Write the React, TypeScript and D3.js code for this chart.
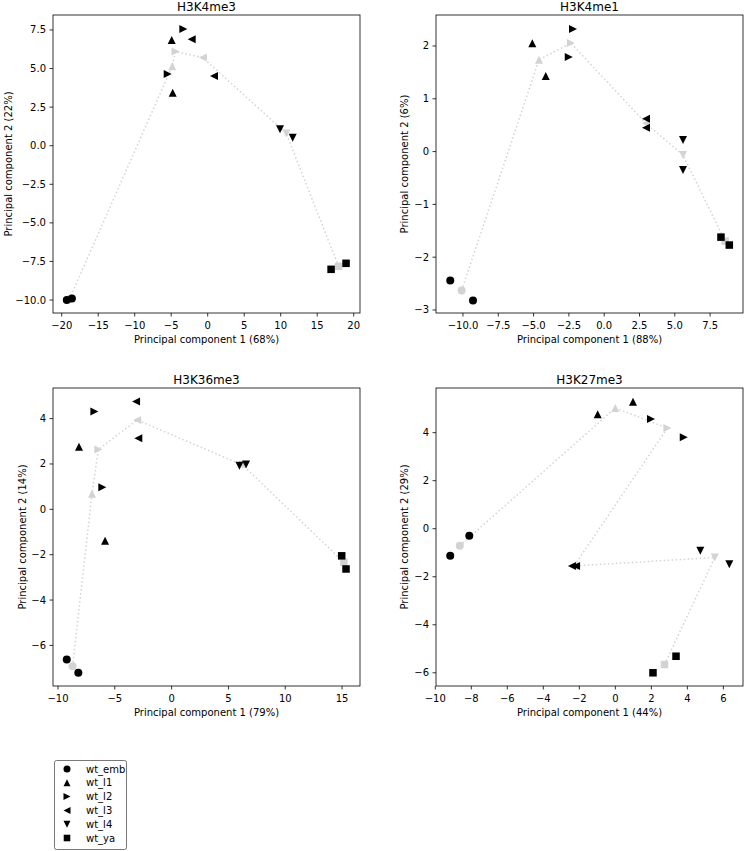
import React from "react";
import * as d3 from "d3";

const groups = ["wt_emb", "wt_l1", "wt_l2", "wt_l3", "wt_l4", "wt_ya"];
const shapes = ["circle", "up", "right", "left", "down", "square"];
const sampleGroup = [0, 0, 1, 1, 2, 2, 3, 3, 4, 4, 5, 5];

// H3K4me3
const k4me3PC1 = [-19.3, -18.6, -4.93, -4.8, -3.34, -5.48, -2.19, 0.86, 9.9, 11.64, 16.9, 18.95];
const k4me3PC2 = [-10.0, -9.9, 6.85, 3.44, 7.56, 4.65, 6.9, 4.52, 1.06, 0.52, -8.01, -7.62];
// H3K4me1
const k4me1PC1 = [-10.9, -9.29, -5.09, -4.14, -2.21, -2.51, 2.96, 2.96, 5.58, 5.58, 8.27, 8.86];
const k4me1PC2 = [-2.44, -2.82, 2.05, 1.43, 2.32, 1.79, 0.62, 0.45, 0.22, -0.35, -1.62, -1.77];
// H3K36me3
const k36me3PC1 = [-9.23, -8.21, -8.15, -5.86, -6.8, -6.1, -3.13, -2.93, 5.97, 6.55, 14.97, 15.35];
const k36me3PC2 = [-6.62, -7.21, 2.76, -1.39, 4.31, 0.97, 4.75, 3.13, 1.92, 1.98, -2.05, -2.63];
// H3K27me3
const k27me3PC1 = [-9.17, -8.11, -0.98, 0.98, 1.98, 3.8, -2.41, -2.18, 4.72, 6.33, 2.09, 3.37];
const k27me3PC2 = [-1.13, -0.29, 4.77, 5.29, 4.57, 3.81, -1.55, -1.55, -0.92, -1.48, -6.0, -5.31];

const titles = ["H3K4me3", "H3K4me1", "H3K36me3", "H3K27me3"];
const pc1Pct = [68, 88, 79, 44];
const pc2Pct = [22, 6, 14, 29];

const xTicks1 = [-20, -15, -10, -5, 0, 5, 10, 15, 20];
const yTicks1 = [-10, -7.5, -5, -2.5, 0, 2.5, 5, 7.5];
const xTicks2 = [-10, -7.5, -5, -2.5, 0, 2.5, 5, 7.5];
const yTicks2 = [-3, -2, -1, 0, 1, 2];
const xTicks3 = [-10, -5, 0, 5, 10, 15];
const yTicks3 = [-6, -4, -2, 0, 2, 4];
const xTicks4 = [-10, -8, -6, -4, -2, 0, 2, 4, 6];
const yTicks4 = [-6, -4, -2, 0, 2, 4];

const FONT = "DejaVu Sans, sans-serif";
const GRAY = "#d3d3d3";

const fmt1 = (v: number) => d3.format(".1f")(v).replace("-", "\u2212");
const fmt0 = (v: number) => d3.format("d")(v).replace("-", "\u2212");

function markerPath(shape: string, s: number) {
  const h = s / 2;
  switch (shape) {
    case "up":
      return `M0,${-h}L${-h},${h}L${h},${h}Z`;
    case "down":
      return `M0,${h}L${-h},${-h}L${h},${-h}Z`;
    case "right":
      return `M${h},0L${-h},${-h}L${-h},${h}Z`;
    case "left":
      return `M${-h},0L${h},${-h}L${h},${h}Z`;
    case "square":
      return `M${-h * 0.94},${-h * 0.94}h${s * 0.94}v${s * 0.94}h${-s * 0.94}Z`;
    default:
      return d3.arc()({ innerRadius: 0, outerRadius: h, startAngle: 0, endAngle: 2 * Math.PI }) as string;
  }
}

type PanelSpec = {
  title: string;
  pc1: number[];
  pc2: number[];
  p1: number;
  p2: number;
  box: [number, number, number, number]; // left, right, top, bottom
  xd: [number, number];
  yd: [number, number];
  xt: number[];
  yt: number[];
  xf: (v: number) => string;
  yf: (v: number) => string;
  ylabelX: number;
};

const panels: PanelSpec[] = [
  { title: titles[0], pc1: k4me3PC1, pc2: k4me3PC2, p1: pc1Pct[0], p2: pc2Pct[0], box: [53, 360, 15, 313], xd: [-21.19, 20.86], yd: [-10.84, 8.47], xt: xTicks1, yt: yTicks1, xf: fmt0, yf: fmt1, ylabelX: 8 },
  { title: titles[1], pc1: k4me1PC1, pc2: k4me1PC2, p1: pc1Pct[1], p2: pc2Pct[1], box: [436, 743, 15, 313], xd: [-11.91, 9.83], yd: [-3.057, 2.587], xt: xTicks2, yt: yTicks2, xf: fmt1, yf: fmt0, ylabelX: 404 },
  { title: titles[2], pc1: k36me3PC1, pc2: k36me3PC2, p1: pc1Pct[2], p2: pc2Pct[2], box: [53, 360, 388, 686], xd: [-10.44, 16.58], yd: [-7.79, 5.35], xt: xTicks3, yt: yTicks3, xf: fmt0, yf: fmt0, ylabelX: 22 },
  { title: titles[3], pc1: k27me3PC1, pc2: k27me3PC2, p1: pc1Pct[3], p2: pc2Pct[3], box: [436, 743, 388, 686], xd: [-9.96, 7.09], yd: [-6.55, 5.86], xt: xTicks4, yt: yTicks4, xf: fmt0, yf: fmt0, ylabelX: 404 },
];

function Panel({ p }: { p: PanelSpec }) {
  const [l, r, t, b] = p.box;
  const x = d3.scaleLinear().domain(p.xd).range([l, r]);
  const y = d3.scaleLinear().domain(p.yd).range([b, t]);
  const means = groups.map((_, gi) => {
    const idx = sampleGroup.map((g, i) => (g === gi ? i : -1)).filter((i) => i >= 0);
    return [d3.mean(idx, (i) => p.pc1[i]) as number, d3.mean(idx, (i) => p.pc2[i]) as number];
  });
  const line = d3
    .line<number[]>()
    .x((d) => x(d[0]))
    .y((d) => y(d[1]));
  const size = 8;
  return (
    <g>
      <text x={(l + r) / 2} y={t - 4} textAnchor="middle" fontSize={12} fontFamily={FONT}>
        {p.title}
      </text>
      <path d={line(means) as string} fill="none" stroke={GRAY} strokeWidth={1.5} strokeDasharray="1.5,2.5" />
      {means.map((m, gi) => (
        <path key={"m" + gi} d={markerPath(shapes[gi], size)} transform={`translate(${x(m[0])},${y(m[1])})`} fill={GRAY} />
      ))}
      {p.pc1.map((v, i) => (
        <path key={"p" + i} d={markerPath(shapes[sampleGroup[i]], size)} transform={`translate(${x(v)},${y(p.pc2[i])})`} fill="#000" />
      ))}
      <rect x={l} y={t} width={r - l} height={b - t} fill="none" stroke="#000" strokeWidth={0.8} />
      {p.xt.map((v) => (
        <g key={"x" + v} transform={`translate(${x(v)},${b})`}>
          <line y1={0} y2={3.5} stroke="#000" strokeWidth={0.8} />
          <text y={12} textAnchor="middle" dominantBaseline="central" fontSize={10} fontFamily={FONT}>
            {p.xf(v)}
          </text>
        </g>
      ))}
      {p.yt.map((v) => (
        <g key={"y" + v} transform={`translate(${l},${y(v)})`}>
          <line x1={0} x2={-3.5} stroke="#000" strokeWidth={0.8} />
          <text x={-7} textAnchor="end" dominantBaseline="central" fontSize={10} fontFamily={FONT}>
            {p.yf(v)}
          </text>
        </g>
      ))}
      <text x={(l + r) / 2} y={b + 26} textAnchor="middle" dominantBaseline="central" fontSize={10} fontFamily={FONT}>
        {`Principal component 1 (${p.p1}%)`}
      </text>
      <text
        transform={`translate(${p.ylabelX},${(t + b) / 2}) rotate(-90)`}
        textAnchor="middle"
        dominantBaseline="central"
        fontSize={10}
        fontFamily={FONT}
      >
        {`Principal component 2 (${p.p2}%)`}
      </text>
    </g>
  );
}

export default function App() {
  const legendY = d3.scaleLinear().domain([0, groups.length - 1]).range([769, 838]);
  return (
    <svg width={744} height={851} style={{ position: "absolute", left: 0, top: 0, background: "#fff" }}>
      <rect width={744} height={851} fill="#fff" />
      {panels.map((p, i) => (
        <Panel key={i} p={p} />
      ))}
      <g>
        <rect x={54.5} y={760.5} width={72} height={89} rx={2} fill="#fff" stroke="#555" strokeWidth={0.8} />
        {groups.map((g, gi) => (
          <g key={g} transform={`translate(0,${legendY(gi)})`}>
            <path d={markerPath(shapes[gi], 7)} transform="translate(67,0)" fill="#000" />
            <text x={86} dominantBaseline="central" fontSize={10} fontFamily={FONT}>
              {g}
            </text>
          </g>
        ))}
      </g>
    </svg>
  );
}
